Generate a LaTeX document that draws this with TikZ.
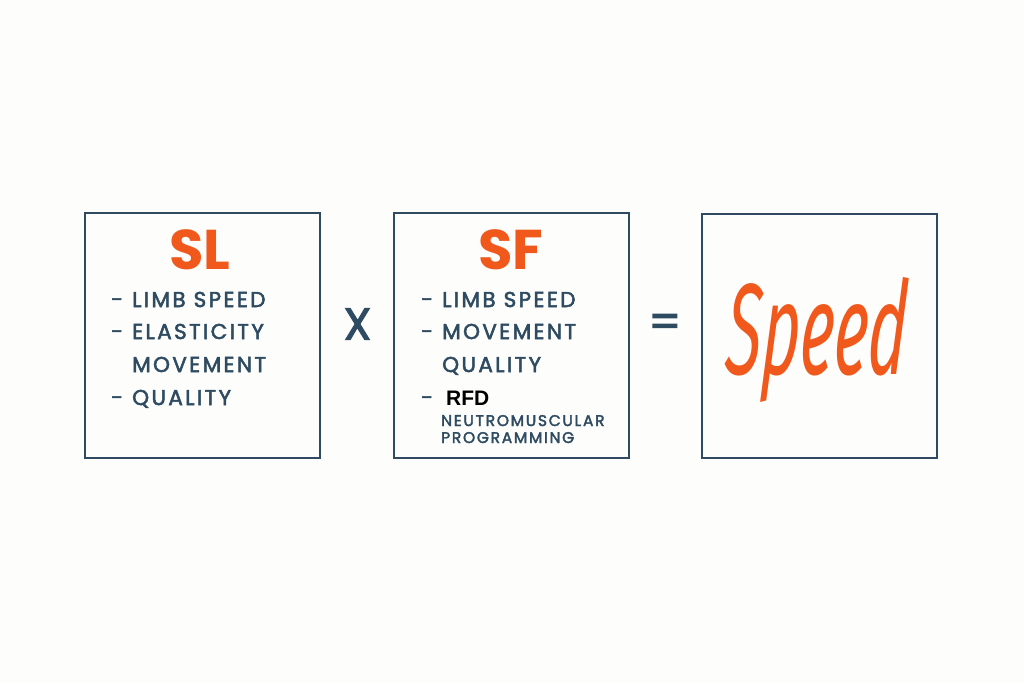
\documentclass[tikz,border=0pt]{standalone}
\usepackage{fontspec}
\usepackage{graphicx}
\setmainfont{Poppins}
\newfontfamily\labelfont{Poppins}[LetterSpace=11,FakeBold=2.4]
\newfontfamily\signfont{Poppins}[FakeBold=2.4]
\newfontfamily\rfdfont{Liberation Sans}
\newfontfamily\speedfont{Fira Sans}[ItalicFeatures={FakeSlant=0.12}]
\definecolor{ink}{HTML}{2E4B62}
\definecolor{accent}{HTML}{F0581C}
\definecolor{paper}{HTML}{FDFDFB}
\tikzset{
  panel/.style={draw=ink,line width=2pt,inner sep=0pt},
  head/.style={text=accent,font=\fontsize{56}{56}\selectfont\bfseries,inner sep=0pt},
  item/.style={anchor=base west,text=ink,inner sep=0pt,font=\labelfont\fontsize{21.5}{21.5}\selectfont},
  small/.style={anchor=base west,text=ink,inner sep=0pt,font=\labelfont\fontsize{15.5}{15.5}\selectfont},
  bullet/.style={anchor=base west,text=ink,inner sep=0pt,font=\signfont\fontsize{21.5}{21.5}\selectfont},
}
\begin{document}
\begin{tikzpicture}[x=1pt,y=-1pt]
\fill[paper] (0,0) rectangle (1024,683);
\useasboundingbox (0,0) rectangle (1024,683);
% the three boxes
\draw[panel] (85,213) rectangle (320,458);
\draw[panel] (394,213) rectangle (629,458);
\draw[panel] (702,214) rectangle (937,458);
% step length
\node[head] (sl) at (200,250) {SL};
\node[bullet] (sla) at (111,307) {-};
\node[item] (slb) at (132,307) {LIMB SPEED};
\node[bullet] (slc) at (111,339) {-};
\node[item] (sld) at (132,339) {ELASTICITY};
\node[item] (sle) at (132,372) {MOVEMENT};
\node[bullet] (slf) at (111,405) {-};
\node[item] (slg) at (132,405) {QUALITY};
% step frequency
\node[head] (sf) at (511,250) {SF};
\node[bullet] (sfa) at (421,307) {-};
\node[item] (sfb) at (442,307) {LIMB SPEED};
\node[bullet] (sfc) at (421,339) {-};
\node[item] (sfd) at (442,339) {MOVEMENT};
\node[item] (sfe) at (442,372) {QUALITY};
\node[bullet] (sff) at (421,405) {-};
\node[anchor=base west,inner sep=0pt,font=\rfdfont\bfseries\fontsize{21}{21}\selectfont] (rfd) at (446,405) {RFD};
\node[small] (nm) at (441,426) {NEUTROMUSCULAR};
\node[small] (pg) at (441,443) {PROGRAMMING};
% operators
\node[text=ink,inner sep=0pt,font=\signfont\fontsize{45}{45}\selectfont] (times) at (357.5,324) {X};
\node[text=ink,inner sep=0pt,font=\signfont\fontsize{46}{46}\selectfont] (eq) at (665,326) {=};
% result
\node[text=accent,inner sep=0pt] (speed) at (815,339.5) {\resizebox*{180pt}{125pt}{\speedfont\itshape Speed}};
\end{tikzpicture}
\end{document}
